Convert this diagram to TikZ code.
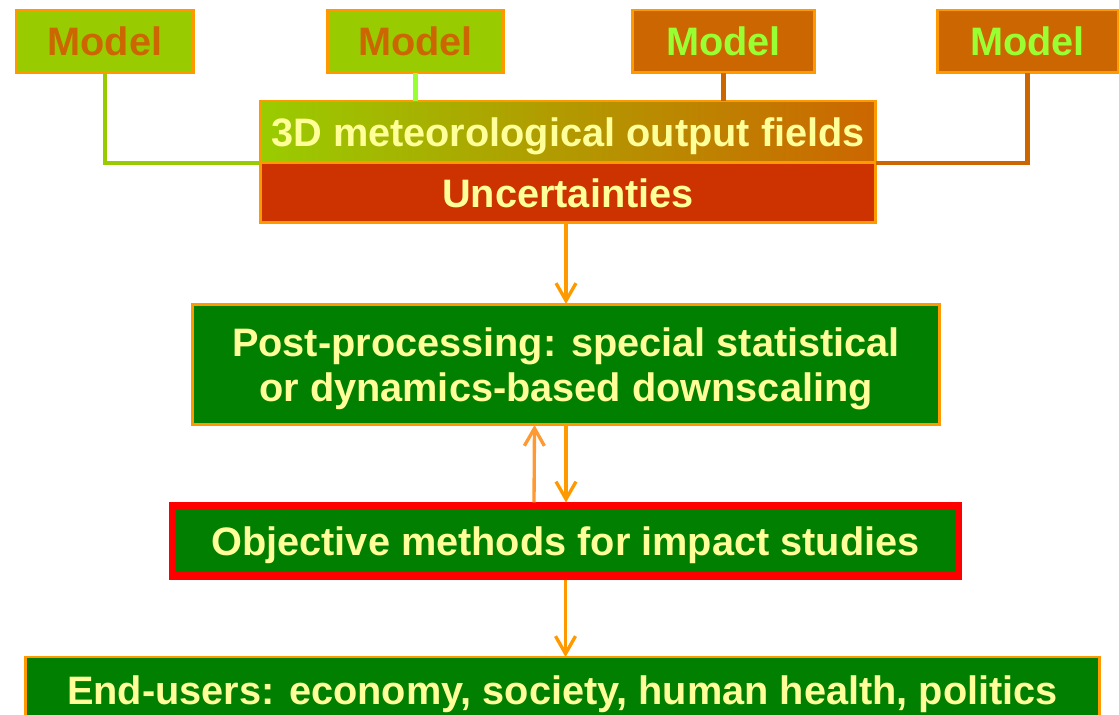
\documentclass[tikz,border=0pt]{standalone}
\usepackage{fontspec}
\setmainfont{Liberation Sans}
\usetikzlibrary{arrows.meta, positioning}
\definecolor{verdeModelo}{HTML}{99CC00}
\definecolor{ocreModelo}{HTML}{CC6600}
\definecolor{limaTexto}{HTML}{99FF33}
\definecolor{naranjaBorde}{HTML}{FF9900}
\definecolor{naranjaClaro}{HTML}{FF9933}
\definecolor{amarilloTexto}{HTML}{FFFF99}
\definecolor{rojoIncert}{HTML}{CC3300}
\definecolor{verdeOscuro}{HTML}{007F00}
\definecolor{rojoMarco}{HTML}{FF0000}
\tikzset{
  cajaBase/.style={
    draw=naranjaBorde, line width=1.7pt, outer sep=0pt,
    align=center, inner sep=2pt, text=amarilloTexto, text depth=0pt,
    font=\bfseries\fontsize{22.6}{25.6}\selectfont
  },
  cajaModeloVerde/.style={cajaBase, fill=verdeModelo, text=ocreModelo,
    minimum height=1.26cm},
  cajaModeloOcre/.style={cajaBase, fill=ocreModelo, text=limaTexto,
    minimum height=1.26cm},
  cajaCampos/.style={cajaBase, left color=verdeModelo, right color=ocreModelo,
    minimum width=12.32cm, minimum height=1.24cm},
  cajaIncert/.style={cajaBase, fill=rojoIncert,
    minimum width=12.32cm, minimum height=1.2cm},
  cajaVerde/.style={cajaBase, fill=verdeOscuro},
  conector/.style={line width=2.3pt},
  flecha/.style={-{Straight Barb[length=3.5mm, width=4mm]}, line width=1.9pt,
    naranjaBorde},
}
\begin{document}
\begin{tikzpicture}[x=0.02cm, y=-0.02cm]
  \useasboundingbox (0,0) rectangle (1119,715);
  \clip (0,0) rectangle (1119,715);

  % the four models
  \node[cajaModeloVerde, minimum width=3.56cm] (modeloA) at (105,41.5) {Model};
  \node[cajaModeloVerde, minimum width=3.54cm] (modeloB) at (415.5,41.5) {Model};
  \node[cajaModeloOcre, minimum width=3.66cm] (modeloC) at (723.5,41.5) {Model};
  \node[cajaModeloOcre, minimum width=3.62cm] (modeloD) at (1027.5,41.5) {Model};

  % output fields and their uncertainties
  \node[cajaCampos] (campos) at (568,132) {3D meteorological output fields};
  \node[cajaIncert, below=0pt of campos] (incert) {Uncertainties};

  \node[cajaVerde, minimum width=14.96cm, minimum height=2.42cm] (post) at (566,364.5)
    {Post-processing: special statistical\\or dynamics-based downscaling};
  \node[cajaVerde, draw=rojoMarco, line width=4pt, outer sep=2pt,
    minimum width=15.74cm, minimum height=1.4cm] (objetivo) at (565.5,541)
    {Objective methods for impact studies};
  \node[cajaVerde, minimum width=21.5cm, minimum height=1.32cm] (usuarios) at (562.5,690)
    {End-users: economy, society, human health, politics};

  % models feeding the fields
  \draw[conector, verdeModelo] (modeloA.south) |- (campos.south west);
  \draw[conector, limaTexto] (modeloB.south) -- (modeloB.south |- campos.north);
  \draw[conector, ocreModelo] (modeloC.south) -- (modeloC.south |- campos.north);
  \draw[conector, ocreModelo] (modeloD.south) |- (campos.south east);

  \draw[flecha] (incert.south -| post.north) -- (post.north);
  \draw[flecha] (post.south) -- (post.south |- objetivo.north);
  \draw[flecha, naranjaClaro] ([xshift=-0.63cm]objetivo.north) -- ([xshift=-0.63cm]post.south);
  \draw[flecha] (objetivo.south) -- (objetivo.south |- usuarios.north);
\end{tikzpicture}
\end{document}
